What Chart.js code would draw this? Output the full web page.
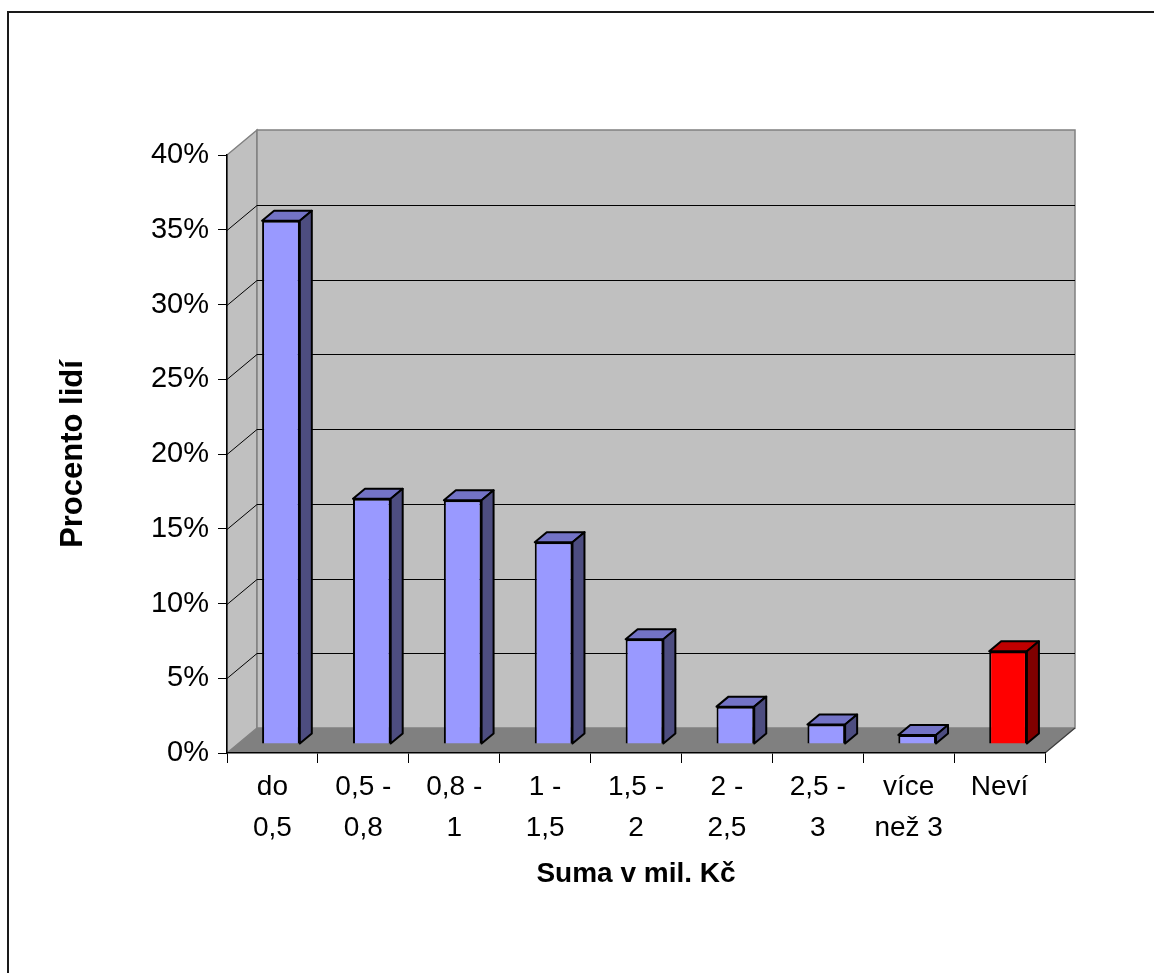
<!DOCTYPE html>
<html>
<head>
<meta charset="utf-8">
<script src="https://cdn.jsdelivr.net/npm/chart.js@4.4.1/dist/chart.umd.min.js"></script>
<style>
  html, body { margin: 0; padding: 0; background: #ffffff; }
  #wrap { width: 1154px; height: 973px; position: relative; }
</style>
</head>
<body>
<div id="wrap"><canvas id="chart" width="1154" height="973"></canvas></div>
<script>
// Survey: how much money people think they would need (in million CZK)
const categories = [
  ['do', '0,5'],
  ['0,5 -', '0,8'],
  ['0,8 -', '1'],
  ['1 -', '1,5'],
  ['1,5 -', '2'],
  ['2 -', '2,5'],
  ['2,5 -', '3'],
  ['více', 'než 3'],
  ['Neví']
];
const shares = [35.0, 16.4, 16.3, 13.5, 7.0, 2.5, 1.3, 0.6, 6.2];
const frontColors = ['#9999ff', '#9999ff', '#9999ff', '#9999ff', '#9999ff', '#9999ff', '#9999ff', '#9999ff', '#ff0000'];
const topColors   = ['#7373c6', '#7373c6', '#7373c6', '#7373c6', '#7373c6', '#7373c6', '#7373c6', '#7373c6', '#c00000'];
const sideColors  = ['#4d4d80', '#4d4d80', '#4d4d80', '#4d4d80', '#4d4d80', '#4d4d80', '#4d4d80', '#4d4d80', '#800000'];
const yTicks = { min: 0, max: 40, step: 5 };

const FONT = "'Liberation Sans', Arial, Helvetica, sans-serif";

// 3D geometry: depth of the box, position of the bar row inside it, and bar thickness
const WALL = { dx: 30, dy: -25 };
const ROW = { dx: 8.5, dy: -9 };
const BAR_DEPTH = { dx: 12, dy: -10 };

function poly(ctx, pts, fill, stroke, lw) {
  ctx.beginPath();
  ctx.moveTo(pts[0][0], pts[0][1]);
  for (let i = 1; i < pts.length; i++) ctx.lineTo(pts[i][0], pts[i][1]);
  ctx.closePath();
  if (fill) { ctx.fillStyle = fill; ctx.fill(); }
  if (stroke) { ctx.strokeStyle = stroke; ctx.lineWidth = lw || 1; ctx.stroke(); }
}

// Outer frame, side wall, back wall, floor and back gridlines
const box3d = {
  id: 'box3d',
  beforeDraw(chart) {
    const { ctx, chartArea: a, scales } = chart;
    const { dx, dy } = WALL;
    ctx.save();
    ctx.fillStyle = '#ffffff';
    ctx.fillRect(0, 0, chart.width, chart.height);
    ctx.strokeStyle = '#1a1a1a';
    ctx.lineWidth = 2;
    ctx.strokeRect(8, 12, chart.width + 40, chart.height + 40);

    const L = a.left, R = a.right, T = a.top, B = a.bottom;
    // side wall
    poly(ctx, [[L, B], [L, T], [L + dx, T + dy], [L + dx, B + dy]], '#c0c0c0', '#808080', 1.5);
    // back wall
    poly(ctx, [[L + dx, T + dy], [R + dx, T + dy], [R + dx, B + dy], [L + dx, B + dy]], '#c0c0c0', '#808080', 1.5);
    // floor
    poly(ctx, [[L, B], [L + dx, B + dy], [R + dx, B + dy], [R, B]], '#808080', null);
    ctx.strokeStyle = '#3a3a3a';
    ctx.lineWidth = 1.2;
    ctx.beginPath();
    ctx.moveTo(R, B); ctx.lineTo(R + dx, B + dy);
    ctx.stroke();

    // gridlines on side and back wall
    const ys = scales.y;
    ctx.strokeStyle = '#000000';
    ctx.lineWidth = 1;
    for (let v = yTicks.min + yTicks.step; v < yTicks.max; v += yTicks.step) {
      const py = Math.round(ys.getPixelForValue(v)) + 0.5;
      ctx.beginPath();
      ctx.moveTo(L, py);
      ctx.lineTo(L + dx, py + dy);
      ctx.lineTo(R + dx, py + dy);
      ctx.stroke();
    }
    ctx.restore();
  }
};

// Bars sit a little back in the box; their top and side faces are added after the fronts
const bars3d = {
  id: 'bars3d',
  beforeDatasetsDraw(chart) {
    chart.ctx.save();
    chart.ctx.translate(ROW.dx, ROW.dy);
  },
  afterDatasetsDraw(chart) {
    const ctx = chart.ctx;
    const meta = chart.getDatasetMeta(0);
    const { dx, dy } = BAR_DEPTH;
    meta.data.forEach((el, i) => {
      const p = el.getProps(['x', 'y', 'base', 'width'], true);
      const l = p.x - p.width / 2, r = p.x + p.width / 2;
      const top = Math.min(p.y, p.base), bot = Math.max(p.y, p.base);
      ctx.lineJoin = 'round';
      poly(ctx, [[l, top], [l + dx, top + dy], [r + dx, top + dy], [r, top]], topColors[i], '#000000', 2);
      poly(ctx, [[r, top], [r + dx, top + dy], [r + dx, bot + dy], [r, bot]], sideColors[i], '#000000', 2);
    });
    ctx.restore();
  }
};

new Chart(document.getElementById('chart'), {
  type: 'bar',
  data: {
    labels: categories,
    datasets: [{
      data: shares,
      backgroundColor: frontColors,
      borderColor: '#000000',
      borderWidth: 2,
      barPercentage: 0.415,
      categoryPercentage: 1,
      clip: false
    }]
  },
  options: {
    responsive: false,
    animation: false,
    devicePixelRatio: 1,
    layout: { padding: { top: 155, right: 109, left: 0, bottom: 0 } },
    plugins: {
      legend: { display: false },
      tooltip: { enabled: false }
    },
    scales: {
      x: {
        offset: true,
        grid: { offset: true, drawOnChartArea: false, drawTicks: true, tickLength: 10, color: '#000000', lineWidth: 1 },
        border: { display: true, color: '#000000', width: 1.5 },
        ticks: {
          color: '#000000',
          font: { family: FONT, size: 28, lineHeight: '41px' },
          padding: 4,
          maxRotation: 0,
          autoSkip: false
        },
        title: {
          display: true,
          text: 'Suma v mil. Kč',
          color: '#000000',
          font: { family: FONT, size: 28, weight: 'bold', lineHeight: 1.2 },
          padding: { top: 0, bottom: 82 }
        },
        afterFit(scale) { scale.height = 220; }
      },
      y: {
        min: yTicks.min,
        max: yTicks.max,
        ticks: {
          stepSize: yTicks.step,
          color: '#000000',
          font: { family: FONT, size: 29 },
          padding: 9,
          callback: (v) => v + '%'
        },
        grid: { drawOnChartArea: false, drawTicks: true, tickLength: 9, color: '#000000', lineWidth: 1 },
        border: { display: true, color: '#000000', width: 1.5 },
        title: {
          display: true,
          text: 'Procento lidí',
          color: '#000000',
          font: { family: FONT, size: 31, weight: 'bold', lineHeight: 1.2 },
          padding: { top: 55, bottom: 0 }
        },
        afterFit(scale) { scale.width = 227; }
      }
    }
  },
  plugins: [box3d, bars3d]
});
</script>
</body>
</html>
